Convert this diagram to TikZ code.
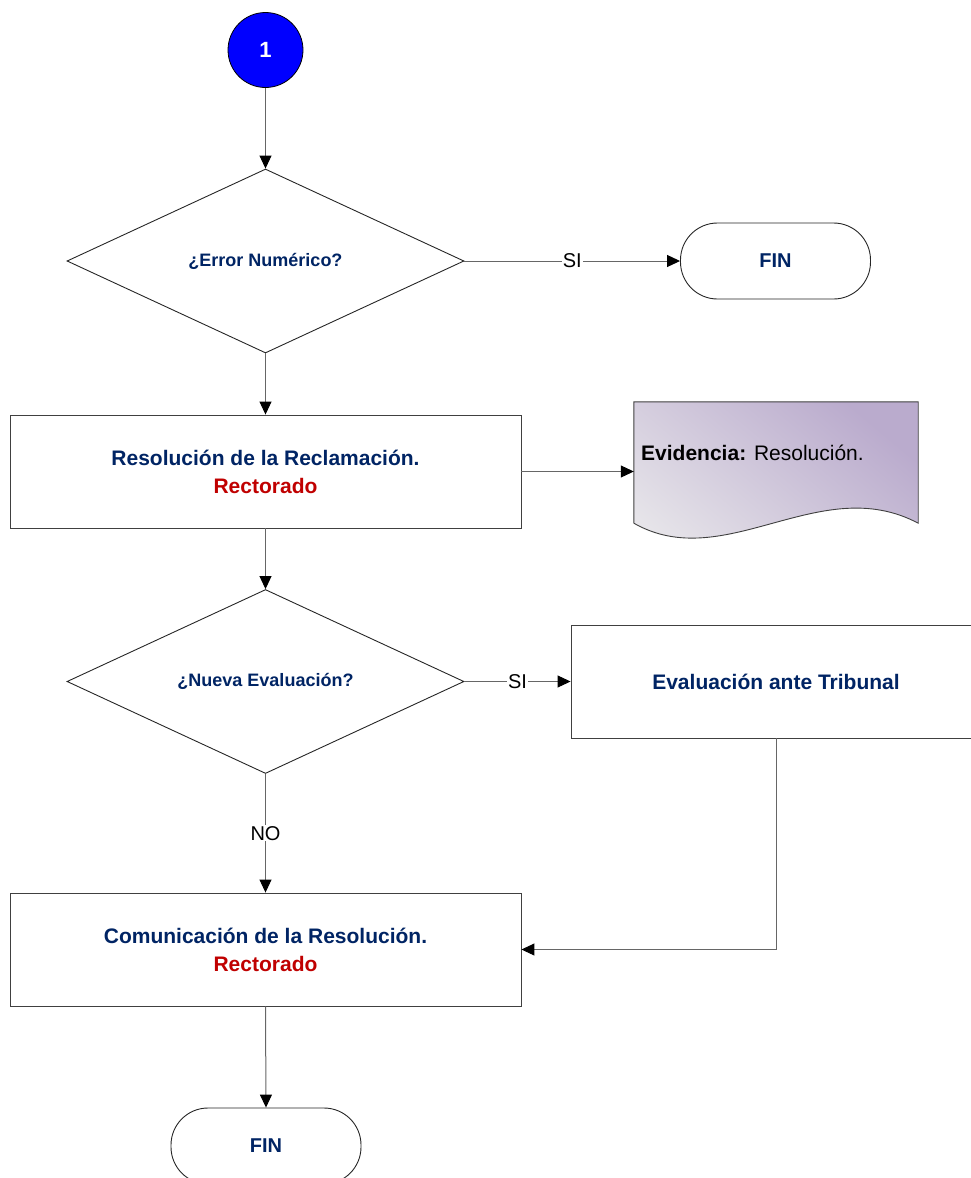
\documentclass[tikz,border=0pt]{standalone}
\usepackage{fontspec}
\setmainfont{Liberation Sans}
\usetikzlibrary{shapes.geometric, arrows.meta}
\definecolor{NavyText}{RGB}{0, 36, 100}
\definecolor{DarkRed}{RGB}{192, 0, 0}
\definecolor{DocPurple}{RGB}{186, 171, 205}
\definecolor{DocLight}{RGB}{230, 228, 233}

\begin{document}
\begin{tikzpicture}[
  x=1pt, y=-1pt,
  font=\fontsize{21}{28}\selectfont,
  box/.style  = {rectangle, draw=black!75, line width=0.9pt, fill=white,
                 minimum width=511pt, minimum height=113pt, align=center,
                 inner sep=0pt, font=\fontsize{21}{28}\selectfont\bfseries,
                 text=NavyText},
  ask/.style  = {diamond, aspect=2.16, draw=black!85, line width=0.9pt,
                 minimum width=397pt, minimum height=184pt, inner sep=0pt,
                 font=\fontsize{18}{22}\selectfont\bfseries, text=NavyText},
  term/.style = {rectangle, rounded corners=37pt, draw=black!85,
                 line width=0.9pt, minimum width=190pt, minimum height=76pt,
                 font=\fontsize{20}{24}\selectfont\bfseries, text=NavyText},
  lbl/.style  = {fill=white, inner sep=1pt, font=\fontsize{20}{24}\selectfont},
  arr/.style  = {draw=black!60, line width=1pt,
                 -{Triangle[length=13pt, width=12pt, color=black]}},
]
\useasboundingbox (0,0) rectangle (970,1178);

\node[circle, draw=black, line width=0.8pt, fill=blue, minimum size=75pt,
      inner sep=0pt, text=white, font=\fontsize{22}{26}\selectfont\bfseries]
  (start) at (265.5,50) {1};

\node[ask]  (q1)   at (265.5,261) {¿Error Numérico?};
\node[term] (fin1) at (775.5,261) {FIN};

\node[box] (r1) at (265.5,471.5)
  {Resolución de la Reclamación.\\\textcolor{DarkRed}{Rectorado}};

% documento de evidencia
\node[minimum width=284pt, minimum height=121pt, inner sep=0pt]
  (evid) at (776,462.5) {};
\shade[draw=black!75, line width=0.9pt, top color=DocPurple,
       bottom color=DocLight, shading angle=-40]
  (evid.south west) -- (evid.north west) -- (evid.north east)
  -- (evid.south east) .. controls (820,471) and (725,575) .. (evid.south west);
\node[anchor=west, inner sep=0pt] (evidtxt) at (641,453)
  {\textbf{Evidencia:} Resolución.};

\node[ask] (q2) at (265.5,681.5) {¿Nueva Evaluación?};
\node[box, minimum width=410pt] (r2) at (776,681.5)
  {Evaluación ante Tribunal};

\node[box] (r3) at (265.5,949.5)
  {Comunicación de la Resolución.\\\textcolor{DarkRed}{Rectorado}};

\node[term] (fin2) at (266,1146) {FIN};

\draw[arr] (start) -- (q1.north);
\draw[arr] (q1.east) -- node[lbl] {SI} (fin1.west);
\draw[arr] (q1.south) -- (r1.north);
\draw[arr] (r1.east) -- (r1.east -| evid.west);
\draw[arr] (r1.south) -- (q2.north);
\draw[arr] (q2.east) -- node[lbl] {SI} (r2.west);
\draw[arr] (q2.south) -- node[lbl] {NO} (r3.north);
\draw[arr] (r2.south) |- (r3.east);
\draw[arr] (r3.south) -- (fin2.north);

\end{tikzpicture}
\end{document}
